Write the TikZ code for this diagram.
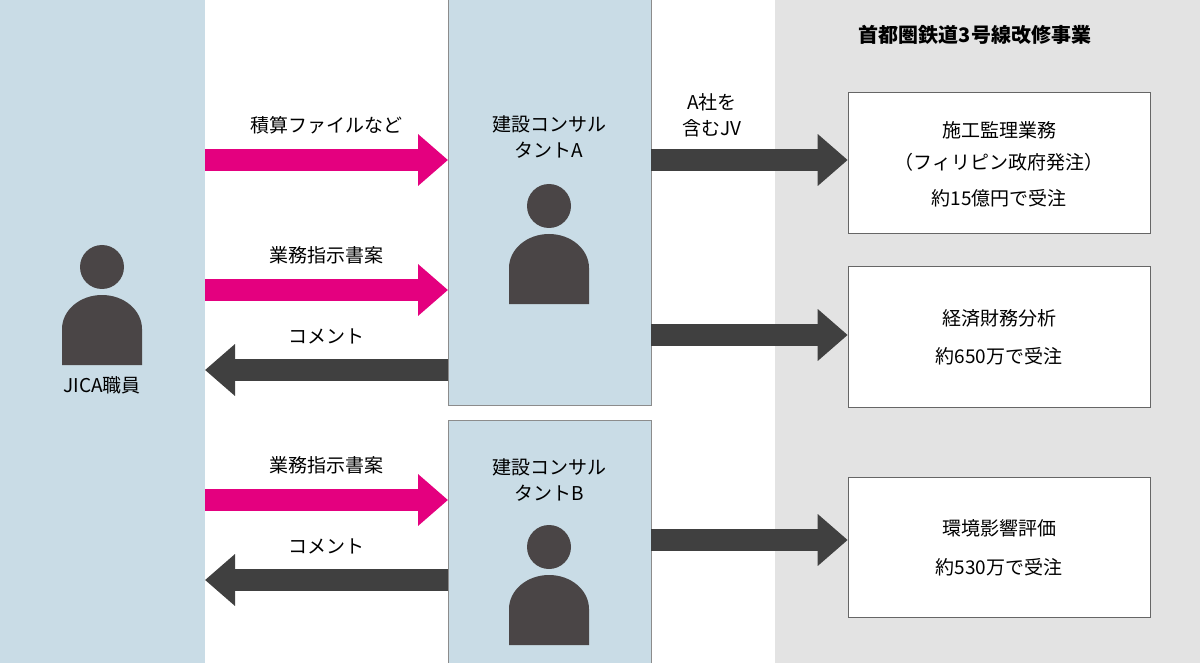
\documentclass[tikz,border=0pt]{standalone}
\usepackage{fontspec}
\setmainfont{Noto Sans CJK JP}
\usetikzlibrary{arrows.meta}
\definecolor{panelblue}{HTML}{C9DCE6}
\definecolor{panelgray}{HTML}{E3E3E3}
\definecolor{pinkarrow}{HTML}{E4007F}
\definecolor{darkarrow}{HTML}{404040}
\definecolor{persongray}{HTML}{4A4546}
\tikzset{
  panel/.style={draw=darkarrow!60, line width=0.6pt, fill=panelblue},
  job/.style={draw=darkarrow!80, line width=0.6pt, fill=white, minimum width=302pt, align=center, inner sep=0pt},
  lbl/.style={font=\fontsize{19}{26}\selectfont, align=center},
  block/.style={line width=22pt, -{Triangle[width=50pt,length=30pt]}},
  pinkblock/.style={block, draw=pinkarrow},
  darkblock/.style={block, draw=darkarrow}
}
\newcommand{\person}[2]{%
  \fill[persongray] (#1,#2) circle (22);
  \fill[persongray] (#1-40,#2+98) -- (#1-40,#2+62) arc (180:360:40 and 34) -- (#1+40,#2+98) -- cycle;
}
\begin{document}
\begin{tikzpicture}[x=1pt,y=-1pt]
  \useasboundingbox (0,0) rectangle (1200,663);

  % panels
  \fill[panelgray] (775,0) rectangle (1200,663);
  \fill[panelblue] (0,0) rectangle (205,663);
  \filldraw[panel] (448,-1) rectangle (651,405);
  \filldraw[panel] (448,420) rectangle (651,664);

  \node[lbl, font=\fontsize{20}{26}\selectfont\bfseries] (title) at (975,35) {首都圏鉄道3号線改修事業};
  \node[lbl] (jica) at (102,385) {JICA職員};
  \node[lbl] (consA) at (549,137) {建設コンサル\\タントA};
  \node[lbl] (consB) at (549,480) {建設コンサル\\タントB};

  \person{102}{267}
  \person{549}{206}
  \person{549}{547}

  % jobs
  \node[job, minimum height=141pt] (supervise) at (999,162.5) {};
  \node[lbl] at (999,130) {施工監理業務};
  \node[lbl] at (999,162) {（フィリピン政府発注）};
  \node[lbl] at (999,198) {約15億円で受注};
  \node[job, minimum height=141pt] (finance) at (999,336.5) {};
  \node[lbl] at (999,318) {経済財務分析};
  \node[lbl] at (999,356) {約650万で受注};
  \node[job, minimum height=140pt] (environ) at (999,547) {};
  \node[lbl] at (999,528) {環境影響評価};
  \node[lbl] at (999,567) {約530万で受注};

  % arrow ends
  \coordinate (jR1) at (205,160);  \coordinate (aL1) at (448,160);
  \coordinate (jR2) at (205,290);  \coordinate (aL2) at (448,290);
  \coordinate (jR3) at (205,370);  \coordinate (aL3) at (448,370);
  \coordinate (jR4) at (205,500);  \coordinate (bL4) at (448,500);
  \coordinate (jR5) at (205,580);  \coordinate (bL5) at (448,580);
  \coordinate (aR1) at (651,160);  \coordinate (aR2) at (651,335);
  \coordinate (bR3) at (651,540);

  \draw[pinkblock] (jR1) -- node[lbl, above=12pt] {積算ファイルなど} (aL1);
  \draw[pinkblock] (jR2) -- node[lbl, above=12pt] {業務指示書案} (aL2);
  \draw[darkblock] (aL3) -- node[lbl, above=12pt] {コメント} (jR3);
  \draw[pinkblock] (jR4) -- node[lbl, above=12pt] {業務指示書案} (bL4);
  \draw[darkblock] (bL5) -- node[lbl, above=12pt] {コメント} (jR5);

  \draw[darkblock] (aR1) -- (supervise.west |- aR1);
  \node[lbl] (jv) at (712,115) {A社を\\含むJV};
  \draw[darkblock] (aR2) -- (finance.west |- aR2);
  \draw[darkblock] (bR3) -- (environ.west |- bR3);
\end{tikzpicture}
\end{document}
